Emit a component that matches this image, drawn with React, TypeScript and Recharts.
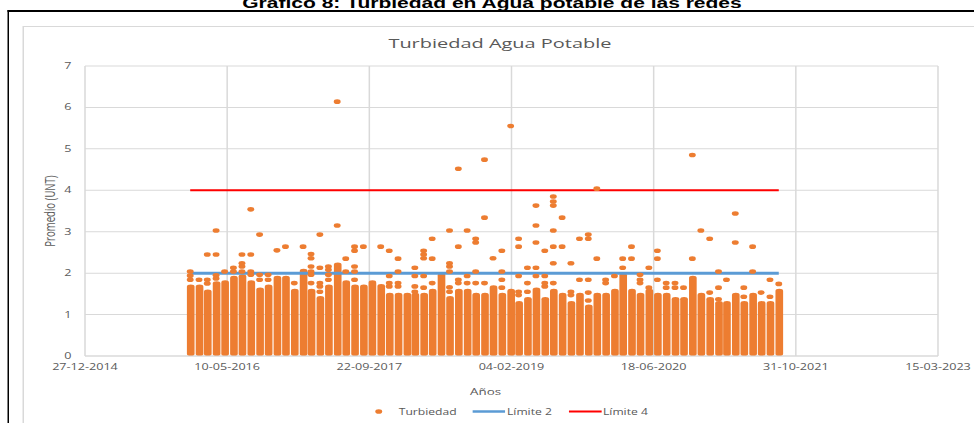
import { Bar, CartesianGrid, ComposedChart, Line, Scatter, XAxis, YAxis } from "recharts";

// monthly sampling campaigns (first day of each month)
const MONTHS = [
  "2016-01", "2016-02", "2016-03", "2016-04", "2016-05", "2016-06", "2016-07", "2016-08", "2016-09", "2016-10", "2016-11", "2016-12",
  "2017-01", "2017-02", "2017-03", "2017-04", "2017-05", "2017-06", "2017-07", "2017-08", "2017-09", "2017-10", "2017-11", "2017-12",
  "2018-01", "2018-02", "2018-03", "2018-04", "2018-05", "2018-06", "2018-07", "2018-08", "2018-09", "2018-10", "2018-11", "2018-12",
  "2019-01", "2019-02", "2019-03", "2019-04", "2019-05", "2019-06", "2019-07", "2019-08", "2019-09", "2019-10", "2019-11", "2019-12",
  "2020-01", "2020-02", "2020-03", "2020-04", "2020-05", "2020-06", "2020-07", "2020-08", "2020-09", "2020-10", "2020-11", "2020-12",
  "2021-01", "2021-02", "2021-03", "2021-04", "2021-05", "2021-06", "2021-07", "2021-08", "2021-09",
];

// top of the dense stack of readings for each month (UNT)
const STACK_TOP = [
  1.67, 1.67, 1.55, 1.75, 1.77, 1.88, 1.92, 1.77, 1.6, 1.67, 1.88, 1.88,
  1.57, 2.05, 1.57, 1.39, 1.67, 2.2, 1.77, 1.67, 1.67, 1.77, 1.68, 1.47,
  1.47, 1.47, 1.47, 1.47, 1.57, 1.95, 1.39, 1.57, 1.57, 1.47, 1.47, 1.65,
  1.47, 1.57, 1.27, 1.37, 1.6, 1.37, 1.57, 1.47, 1.27, 1.47, 1.19, 1.47,
  1.47, 1.57, 1.95, 1.57, 1.47, 1.57, 1.47, 1.47, 1.37, 1.37, 1.88, 1.47,
  1.37, 1.27, 1.27, 1.47, 1.27, 1.47, 1.27, 1.27, 1.57,
];

// isolated readings above the stack, per month
const HIGH_READINGS = [
  [2.04, 1.94, 1.84], [1.84], [2.45, 1.84, 1.75], [3.03, 2.45, 1.95, 1.87], [2.04], [2.13, 2.04],
  [2.45, 2.24, 2.16, 2.04], [3.54, 2.45, 2.04, 1.96], [2.93, 1.96, 1.84], [1.96, 1.84], [2.55], [2.64],
  [1.76], [2.64], [2.46, 2.36, 2.16, 2.04, 1.96, 1.76], [2.93, 2.13, 1.76, 1.68, 1.55], [2.16, 2.08, 1.96, 1.84], [6.14, 3.15],
  [2.35, 2.04], [2.64, 2.54, 2.16, 2.04, 1.84], [2.64], [], [2.64], [2.54, 1.93, 1.76, 1.68],
  [2.35, 2.04, 1.76, 1.68], [], [2.13, 1.93, 1.68, 1.55], [2.54, 2.45, 2.36, 1.93, 1.65], [2.83, 2.35, 1.76], [],
  [3.03, 2.24, 2.16, 2.04, 1.66, 1.55], [4.52, 2.64, 1.84, 1.76], [3.03, 1.93, 1.76], [2.83, 2.74, 2.04, 1.76], [4.74, 3.34, 1.76], [2.36],
  [2.54, 2.04, 1.84, 1.65], [5.55], [2.83, 2.64, 1.93, 1.55, 1.47], [2.13, 1.76, 1.55], [3.63, 3.15, 2.74, 2.13, 1.93], [2.54, 1.93, 1.76, 1.68],
  [3.85, 3.73, 3.63, 3.03, 2.64, 2.24, 1.76], [3.34, 2.64], [2.24, 1.55, 1.47], [2.83, 1.84], [2.93, 2.83, 1.84, 1.53, 1.34], [4.04, 2.35],
  [1.84, 1.76], [1.93], [2.35, 2.13], [2.64, 2.35], [1.96, 1.84, 1.76], [2.13, 1.65],
  [2.54, 2.35, 1.84], [1.76, 1.65], [1.76, 1.65], [1.65], [4.85, 2.35], [3.03],
  [2.83, 1.53], [2.04, 1.65, 1.37], [1.84], [3.44, 2.74], [1.65, 1.43], [2.64, 2.04],
  [1.53], [1.84, 1.43], [1.74],
];

const LIMIT_2 = 2;
const LIMIT_4 = 4;

// excel date serials: 27-12-2014 ... 15-03-2023
const X_TICKS = [42000, 42500, 43000, 43500, 44000, 44500, 45000];
const Y_TICKS = [0, 1, 2, 3, 4, 5, 6, 7];

const ORANGE = "#ED7D31";
const BLUE = "#5B9BD5";
const RED = "#FF0000";
const TEXT = "#595959";
const GRID = "#D9D9D9";
const FONT = "'Open Sans', sans-serif";

// the source image is stretched horizontally, so the whole chart is drawn narrow and widened
const STRETCH = 1.5;
const W = 649;
const H = 423;

const EXCEL_EPOCH = Date.UTC(1899, 11, 30);
const DAY = 86400000;

function monthToSerial(m: string): number {
  const [y, mo] = m.split("-").map(Number);
  return (Date.UTC(y, mo - 1, 1) - EXCEL_EPOCH) / DAY;
}

function serialToLabel(s: number): string {
  const d = new Date(EXCEL_EPOCH + s * DAY);
  const dd = String(d.getUTCDate()).padStart(2, "0");
  const mm = String(d.getUTCMonth() + 1).padStart(2, "0");
  return `${dd}-${mm}-${d.getUTCFullYear()}`;
}

const rows = MONTHS.map((m, i) => ({
  date: monthToSerial(m),
  top: STACK_TOP[i],
  lim2: LIMIT_2,
  lim4: LIMIT_4,
}));

const highPoints = MONTHS.flatMap((m, i) =>
  HIGH_READINGS[i].map((v) => ({ date: monthToSerial(m), v }))
);

const DOT_R = 2.3;
const COL_W = 5.1;

function Column(props: any) {
  const { x, y, width, height } = props;
  if (!height || height <= 0) return null;
  const cx = x + width / 2;
  const r = COL_W / 2;
  return (
    <rect x={cx - r} y={y - DOT_R} width={COL_W} height={height + DOT_R} rx={r} ry={DOT_R} fill={ORANGE} />
  );
}

function Dot(props: any) {
  const { cx, cy } = props;
  if (cx == null || cy == null) return null;
  return <circle cx={cx} cy={cy} r={DOT_R} fill={ORANGE} />;
}

function YLabel(props: any) {
  const vb = props.viewBox || {};
  const cx = 33.3;
  const cy = vb.y + vb.height / 2;
  return (
    <text
      x={cx}
      y={cy}
      transform={`rotate(-90, ${cx}, ${cy})`}
      textAnchor="middle"
      dominantBaseline="central"
      fill={TEXT}
      fontSize={9.6}
      fontFamily={FONT}
    >
      Promedio (UNT)
    </text>
  );
}

function XLabel(props: any) {
  const vb = props.viewBox || {};
  return (
    <text x={323.7} y={vb.y + 39} textAnchor="middle" fill={TEXT} fontSize={8.9} fontFamily={FONT}>
      Años
    </text>
  );
}

function Legend() {
  const cy = 11.5;
  const txt = { fill: TEXT, fontSize: 8.1, fontFamily: FONT, dominantBaseline: "central" as const };
  return (
    <svg width={W} height={23} style={{ position: "absolute", left: 0, top: 400 }}>
      <circle cx={252.5} cy={cy} r={DOT_R} fill={ORANGE} />
      <text x={265.8} y={cy} {...txt}>Turbiedad</text>
      <line x1={315.1} x2={336.7} y1={cy} y2={cy} stroke={BLUE} strokeWidth={2.5} />
      <text x={338} y={cy} {...txt}>Límite 2</text>
      <line x1={379.3} x2={401.1} y1={cy} y2={cy} stroke={RED} strokeWidth={2} />
      <text x={402} y={cy} {...txt}>Límite 4</text>
    </svg>
  );
}

export default function App() {
  return (
    <div style={{ position: "fixed", left: 0, top: 0, width: 974, height: H, overflow: "hidden", background: "#fff" }}>
      <div
        style={{
          position: "absolute",
          left: 0,
          top: 0,
          width: W,
          height: H,
          transform: `scaleX(${STRETCH})`,
          transformOrigin: "0 0",
        }}
      >
        <div
          style={{
            position: "absolute",
            left: 0,
            top: -4,
            width: 656,
            textAlign: "center",
            fontFamily: "'Liberation Sans', Arial, sans-serif",
            fontWeight: 700,
            fontSize: 14,
            lineHeight: "14px",
            whiteSpace: "nowrap",
            color: "#000",
          }}
        >
          Gráfico 8: Turbiedad en Agua potable de las redes
        </div>
        <div
          style={{
            position: "absolute",
            left: 4.7,
            top: 10,
            width: 1000,
            height: 1000,
            borderTop: "2px solid #000",
            borderLeft: "1.4px solid #000",
          }}
        />
        <div
          style={{
            position: "absolute",
            left: 14.7,
            top: 26,
            width: 1000,
            height: 1000,
            border: `1px solid ${GRID}`,
          }}
        />
        <div
          style={{
            position: "absolute",
            left: 0,
            top: 34.6,
            width: 666.6,
            textAlign: "center",
            fontFamily: FONT,
            fontSize: 13.3,
            lineHeight: "16px",
            color: TEXT,
            whiteSpace: "nowrap",
          }}
        >
          Turbiedad Agua Potable
        </div>
        <div style={{ position: "absolute", left: 0, top: 0 }}>
          <ComposedChart
            width={W}
            height={H}
            data={rows}
            margin={{ top: 66, right: 23.67, left: 16.67, bottom: 25 }}
          >
            <CartesianGrid stroke={GRID} strokeWidth={1} />
            <XAxis
              dataKey="date"
              type="number"
              domain={[42000, 45000]}
              ticks={X_TICKS}
              allowDataOverflow
              tickFormatter={serialToLabel}
              tick={{ fontSize: 8.4, fill: TEXT, fontFamily: FONT }}
              tickLine={false}
              tickSize={0}
              tickMargin={8}
              axisLine={{ stroke: GRID }}
              height={42}
              interval={0}
              label={<XLabel />}
            />
            <YAxis
              type="number"
              domain={[0, 7]}
              ticks={Y_TICKS}
              allowDataOverflow
              tick={{ fontSize: 8.4, fill: TEXT, fontFamily: FONT }}
              tickLine={false}
              tickSize={0}
              tickMargin={9}
              axisLine={false}
              width={40}
              interval={0}
              label={<YLabel />}
            />
            <Bar dataKey="top" barSize={4} shape={<Column />} isAnimationActive={false} />
            <Scatter data={highPoints} dataKey="v" shape={<Dot />} isAnimationActive={false} />
            <Line dataKey="lim2" stroke={BLUE} strokeWidth={3} dot={false} activeDot={false} isAnimationActive={false} />
            <Line dataKey="lim4" stroke={RED} strokeWidth={2} dot={false} activeDot={false} isAnimationActive={false} />
          </ComposedChart>
        </div>
        <Legend />
      </div>
    </div>
  );
}
